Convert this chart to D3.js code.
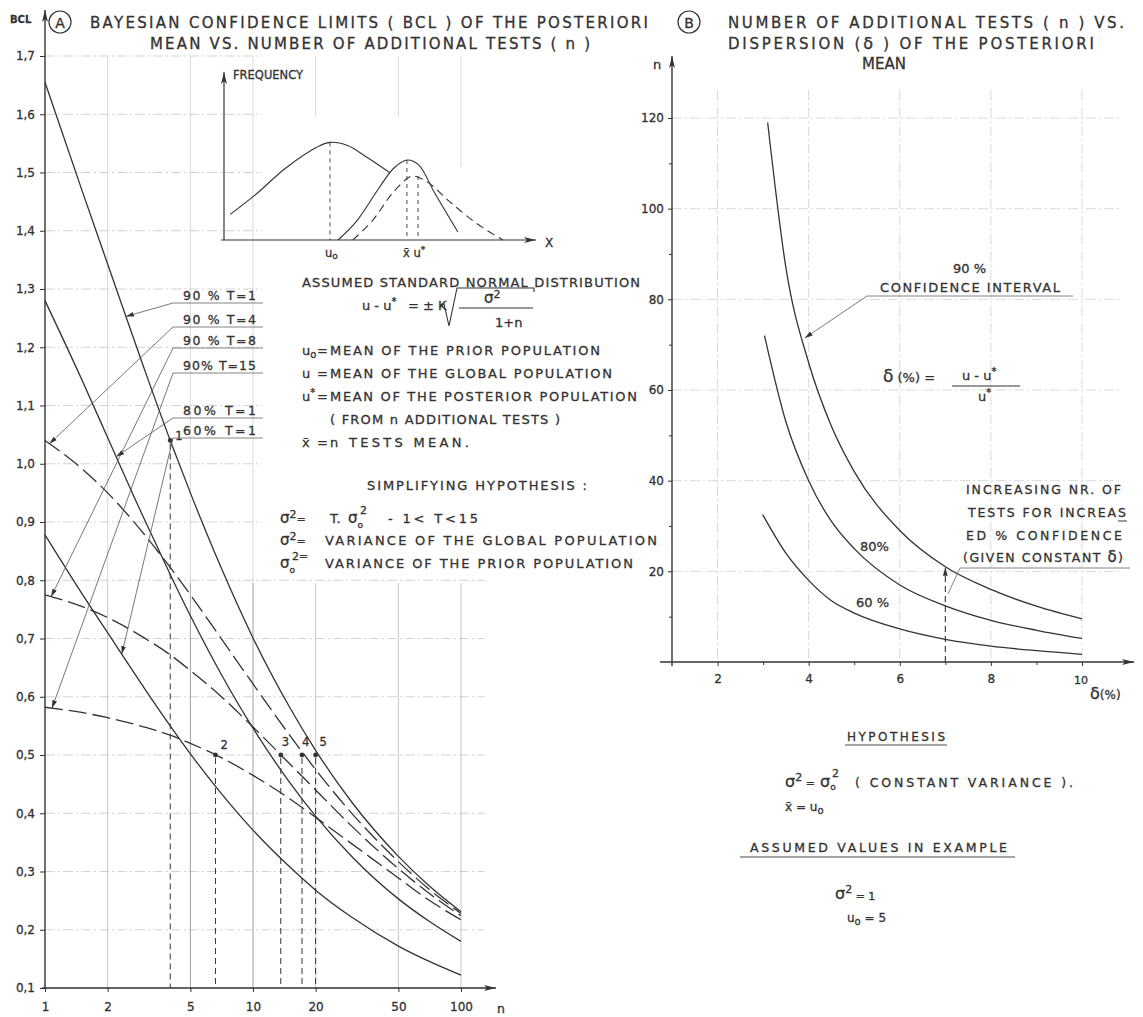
<!DOCTYPE html>
<html>
<head>
<meta charset="utf-8">
<script src="https://cdn.jsdelivr.net/npm/d3@7"></script>
<style>
  body { margin: 0; background: #fff; }
  svg text { font-family: "DejaVu Sans", sans-serif; fill: #333; stroke: #333; stroke-width: 0.3px; }
</style>
</head>
<body>
<svg id="chart" width="1143" height="1017"></svg>
<script>
// ---------- Panel A: Bayesian confidence limits vs. number of tests ----------
const nSteps   = [1, 1.5, 2, 3, 4, 5, 7, 10, 15, 20, 30, 50, 70, 100];
const bcl90T1  = [1.655, 1.471, 1.343, 1.163, 1.040, 0.950, 0.823, 0.701, 0.582, 0.508, 0.418, 0.326, 0.276, 0.231];
const bcl80T1  = [1.280, 1.145, 1.045, 0.905, 0.810, 0.739, 0.640, 0.546, 0.453, 0.395, 0.325, 0.253, 0.215, 0.180];
const bcl60T1  = [0.878, 0.778, 0.710, 0.615, 0.550, 0.502, 0.435, 0.371, 0.308, 0.268, 0.221, 0.172, 0.146, 0.122];
const bcl90T4  = [1.040, 0.992, 0.950, 0.879, 0.822, 0.775, 0.701, 0.622, 0.534, 0.475, 0.399, 0.317, 0.270, 0.228];
const bcl90T8  = [0.775, 0.755, 0.736, 0.701, 0.672, 0.645, 0.601, 0.548, 0.485, 0.440, 0.377, 0.305, 0.263, 0.224];
const bcl90T15 = [0.582, 0.573, 0.564, 0.548, 0.534, 0.520, 0.496, 0.465, 0.425, 0.393, 0.347, 0.289, 0.251, 0.217];

const bclTicks = [0.1, 0.2, 0.3, 0.4, 0.5, 0.6, 0.7, 0.8, 0.9, 1.0, 1.1, 1.2, 1.3, 1.4, 1.5, 1.6, 1.7];
const nTicks   = [1, 2, 5, 10, 20, 50, 100];

// worked example points
const exampleN     = [4, 6.6, 13.6, 17.2, 20];
const exampleBCL   = [1.04, 0.5, 0.5, 0.5, 0.5];
const exampleLabel = ["1", "2", "3", "4", "5"];

// legend labels and where their leaders touch the curves (n on the curve)
const legendLabels  = ["90 % T=1", "90 % T=4", "90 % T=8", "90% T=15", "80% T=1", "60% T=1"];
const legendLeaderN = [2.45, 1.05, 1.07, 1.08, 2.2, 2.34];

// inset: prior / posterior frequency sketch
const priorX = [0.2, 1, 2, 3, 3.43, 4, 4.6, 5.37];
const priorY = [0.16, 0.28, 0.45, 0.58, 0.61, 0.59, 0.52, 0.42];
const postX  = [3.69, 4.3, 5.0, 5.5, 5.92, 6.3, 6.8, 7.57];
const postY  = [0.0, 0.12, 0.32, 0.45, 0.50, 0.47, 0.30, 0.05];
const sampX  = [4.17, 4.8, 5.4, 5.9, 6.12, 6.6, 7.3, 8.2, 9.03];
const sampY  = [0.0, 0.12, 0.28, 0.38, 0.40, 0.36, 0.24, 0.10, 0.0];
const insetMarks = { u0: 3.43, xbar: 5.92, ustar: 6.28 };

// ---------- Panel B: number of tests vs. dispersion ----------
const delta90 = [3.1, 3.5, 4, 4.5, 5, 6, 7, 8, 9, 10];
const nB90    = [119, 87, 66, 52, 42, 29, 21, 16, 12.3, 9.5];
const delta80 = [3.03, 3.5, 4, 4.5, 5, 6, 7, 8, 9, 10];
const nB80    = [72, 53, 40, 31, 25, 17, 12.4, 9.2, 7, 5.2];
const delta60 = [2.99, 3.5, 4, 4.5, 5, 6, 7, 8, 9, 10];
const nB60    = [32.5, 24, 18, 13.5, 10.8, 7.3, 5, 3.5, 2.5, 1.7];
const nBTicks = [20, 40, 60, 80, 100, 120];
const nBMinor = [10, 30, 50, 70, 90, 110];
const dTicks  = [2, 4, 6, 8, 10];
const dMinor  = [3, 5, 7, 9];
const arrowDelta = 7;

const INK = "#333";
const svg = d3.select("#chart");
svg.append("rect").attr("width", 1143).attr("height", 1017).attr("fill", "#fff");

const defs = svg.append("defs");
defs.append("marker").attr("id", "arr").attr("viewBox", "0 0 12 6")
  .attr("refX", 12).attr("refY", 3).attr("markerWidth", 14).attr("markerHeight", 6)
  .attr("markerUnits", "userSpaceOnUse").attr("orient", "auto")
  .append("path").attr("d", "M0,0 L12,3 L0,6 L3,3 Z").attr("fill", INK);
defs.append("marker").attr("id", "arrS").attr("viewBox", "0 0 10 6")
  .attr("refX", 10).attr("refY", 3).attr("markerWidth", 8).attr("markerHeight", 5)
  .attr("markerUnits", "userSpaceOnUse").attr("orient", "auto")
  .append("path").attr("d", "M0,0 L10,3 L0,6 Z").attr("fill", INK);

function line(x1, y1, x2, y2, opt = {}) {
  const l = svg.append("line").attr("x1", x1).attr("y1", y1).attr("x2", x2).attr("y2", y2)
    .attr("stroke", opt.color || INK).attr("stroke-width", opt.w || 1);
  if (opt.dash) l.attr("stroke-dasharray", opt.dash);
  if (opt.marker) l.attr("marker-end", `url(#${opt.marker})`);
  return l;
}
// text made of parts; a part is a string or {t, dy, size}
function rich(x, y, parts, opt = {}) {
  const t = svg.append("text").attr("x", x).attr("y", y).attr("font-size", opt.size || 12.5);
  if (opt.anchor) t.attr("text-anchor", opt.anchor);
  if (opt.len) t.attr("textLength", opt.len).attr("lengthAdjust", "spacing");
  let shift = 0;
  parts.forEach(p => {
    if (typeof p === "string") p = { t: p };
    const dy = (p.dy || 0) - shift;
    shift = p.dy || 0;
    const s = t.append("tspan").attr("dy", dy).text(p.t);
    if (p.size) s.attr("font-size", p.size);
  });
  return t;
}
function txt(x, y, s, opt = {}) { return rich(x, y, [s], opt); }

// ================= PANEL A =================
const xA = d3.scaleLog().domain([1, 100]).range([45, 461]);
const yA = d3.scaleLinear().domain([0.1, 1.7]).range([988, 56]);

// grid
const gridA = svg.append("g").attr("stroke-width", 0.8);
bclTicks.forEach(v => {
  const right = v <= 0.8 ? 485 : 262;
  gridA.append("line").attr("x1", xA(1)).attr("x2", right).attr("y1", yA(v)).attr("y2", yA(v))
    .attr("stroke", "#c8c8c8").attr("stroke-dasharray", "10,3,2,3");
});
nTicks.slice(1).forEach(n => {
  const upperEnd = n === 100 ? 167 : (n >= 20 ? 117 : 583);
  gridA.append("line").attr("x1", xA(n)).attr("x2", xA(n)).attr("y1", yA(1.7)).attr("y2", upperEnd)
    .attr("stroke", "#cfcfcf");
  gridA.append("line").attr("x1", xA(n)).attr("x2", xA(n)).attr("y1", 583).attr("y2", yA(0.1))
    .attr("stroke", n === 5 || n === 10 ? "#8a8a8a" : "#b8b8b8");
});

// axes
line(xA(1), yA(0.1), xA(1), 10, { w: 1.4, marker: "arr" });
line(xA(1) - 3, yA(0.1), 496, yA(0.1), { w: 1.4, marker: "arr" });
const gyA = svg.append("g").attr("transform", `translate(${xA(1)},0)`)
  .call(d3.axisLeft(yA).tickValues(bclTicks).tickSize(5).tickPadding(5)
    .tickFormat(d => d3.format(".1f")(d).replace(".", ",")));
gyA.select(".domain").remove();
const gxA = svg.append("g").attr("transform", `translate(0,${yA(0.1)})`)
  .call(d3.axisBottom(xA).tickValues(nTicks).tickSize(4).tickPadding(10).tickFormat(d3.format("d")));
gxA.select(".domain").remove();
[gyA, gxA].forEach(g => {
  g.attr("font-family", null).attr("font-size", null);
  g.selectAll("line").attr("stroke", INK);
  g.selectAll("text").attr("font-size", 12).attr("fill", INK);
});
txt(497, 1013, "n", { size: 12.5 });
txt(10, 23, "BCL", { size: 10 }).attr("font-weight", "bold");

// curves
const lineA = data => d3.line().x((d, i) => xA(nSteps[i])).y(d => yA(d)).curve(d3.curveMonotoneX)(data);
const seriesA = [
  { v: bcl90T1, dash: null }, { v: bcl80T1, dash: null }, { v: bcl60T1, dash: null },
  { v: bcl90T4, dash: "18,6" }, { v: bcl90T8, dash: "18,6" }, { v: bcl90T15, dash: "18,6" }
];
seriesA.forEach(s => svg.append("path").attr("d", lineA(s.v)).attr("fill", "none")
  .attr("stroke", INK).attr("stroke-width", 1.3).attr("stroke-dasharray", s.dash));

// worked example points
exampleN.forEach((n, i) => {
  line(xA(n), yA(exampleBCL[i]) + 3, xA(n), yA(0.1), { dash: "6,4", w: 1 });
  svg.append("circle").attr("cx", xA(n)).attr("cy", yA(exampleBCL[i])).attr("r", 2.4).attr("fill", INK);
  const off = [[5, 0], [5, -6], [1, -9], [0, -9], [4, -9]][i];
  txt(xA(n) + off[0], yA(exampleBCL[i]) + off[1], exampleLabel[i], { size: 11.5 });
});

// legend with leaders
const legendSeries = [bcl90T1, bcl90T4, bcl90T8, bcl90T15, bcl80T1, bcl60T1];
const legendUnder = [303, 327, 348, 373, 418, 438];
legendLabels.forEach((lab, i) => {
  const uy = legendUnder[i];
  txt(183, uy - 3, lab, { size: 12.5, len: 73 });
  line(173, uy, 263, uy, { w: 0.8, color: "#666" });
  const yOn = d3.scaleLog().domain(nSteps).range(legendSeries[i]);
  const n = legendLeaderN[i];
  line(173, uy, xA(n), yA(yOn(n)), { w: 0.8, color: "#555", marker: "arrS" });
});

// title
svg.append("circle").attr("cx", 60).attr("cy", 22).attr("r", 11).attr("fill", "none").attr("stroke", INK).attr("stroke-width", 1.2);
txt(60, 27.5, "A", { size: 14, anchor: "middle" });
txt(90, 28, "BAYESIAN  CONFIDENCE  LIMITS  ( BCL ) OF  THE  POSTERIORI", { size: 15, len: 558 });
txt(150, 49, "MEAN  VS.  NUMBER  OF ADDITIONAL  TESTS  ( n )", { size: 15, len: 440 });

// inset sketch
const xI = d3.scaleLinear().domain([0, 10]).range([224, 533]);
const yI = d3.scaleLinear().domain([0, 1]).range([240, 80]);
const lineI = (xs, ys) => d3.line().x((d, i) => xI(xs[i])).y(d => yI(d)).curve(d3.curveCatmullRom)(ys);
line(xI(0), yI(0), xI(0), 72, { w: 1.2, marker: "arr" });
line(xI(0) - 3, yI(0), 536, yI(0), { w: 1.2, marker: "arr" });
svg.append("path").attr("d", lineI(priorX, priorY)).attr("fill", "none").attr("stroke", INK).attr("stroke-width", 1.1);
svg.append("path").attr("d", lineI(postX, postY)).attr("fill", "none").attr("stroke", INK).attr("stroke-width", 1.1);
svg.append("path").attr("d", lineI(sampX, sampY)).attr("fill", "none").attr("stroke", INK).attr("stroke-width", 1.1).attr("stroke-dasharray", "8,5");
line(xI(insetMarks.u0), yI(0.61), xI(insetMarks.u0), yI(0), { dash: "4,4", w: 0.9 });
line(xI(insetMarks.xbar), yI(0.5), xI(insetMarks.xbar), yI(0), { dash: "4,4", w: 0.9 });
line(xI(insetMarks.ustar), yI(0.4), xI(insetMarks.ustar), yI(0), { dash: "4,4", w: 0.9 });
txt(233, 79, "FREQUENCY", { size: 11.5 });
txt(545, 247, "X", { size: 12 });
rich(xI(insetMarks.u0) - 5, 257, ["u", { t: "o", dy: 2, size: 9 }], { size: 11.5 });
rich(xI(insetMarks.xbar) - 4, 257, ["x̄", { t: " u", dy: 0 }, { t: "*", dy: -4, size: 9 }], { size: 11.5 });

// explanatory text block
txt(302, 287, "ASSUMED  STANDARD  NORMAL  DISTRIBUTION", { size: 13, len: 338 });
rich(362, 310, ["u - u", { t: "*", dy: -5, size: 10 }], { size: 13 });
txt(408, 310, "= ± K", { size: 13 });
svg.append("path").attr("d", "M440,307 L444,304 L449,326 L457,288 L534,288 L534,292")
  .attr("fill", "none").attr("stroke", INK).attr("stroke-width", 1.1);
rich(484, 303, ["σ", { t: "2", dy: -5, size: 11 }], { size: 15 });
line(459, 308, 533, 308, { w: 1.1 });
txt(495, 327, "1+n", { size: 13 });

const defs1 = [
  [355, ["u", { t: "o", dy: 3, size: 10 }], "MEAN  OF  THE  PRIOR  POPULATION", 270],
  [378, ["u"], "MEAN  OF  THE  GLOBAL  POPULATION", 282],
  [401, ["u", { t: "*", dy: -5, size: 10 }], "MEAN  OF  THE  POSTERIOR  POPULATION", 307],
  [447, ["x̄"], "n  TESTS  MEAN.", 139]
];
defs1.forEach(([y, lhs, rhs, len]) => {
  rich(302, y, lhs, { size: 13 });
  txt(317, y, "=", { size: 13 });
  txt(330, y, rhs, { size: 13, len });
});
txt(330, 424, "( FROM  n  ADDITIONAL  TESTS )", { size: 13, len: 230 });
txt(367, 490, "SIMPLIFYING  HYPOTHESIS :", { size: 13, len: 220 });
rich(280, 523, ["σ", { t: "2", dy: -5, size: 11 }, { t: "=", dy: 0, size: 11 }], { size: 15 });
txt(330, 523, "T.", { size: 13 });
rich(348, 523, ["σ", { t: "o", dy: 5, size: 9 }], { size: 15 });
txt(360, 514, "2", { size: 11 });
txt(388, 523, "-   1< T<15", { size: 13, len: 90 });
rich(280, 545, ["σ", { t: "2", dy: -5, size: 11 }, { t: "=", dy: 0, size: 11 }], { size: 15 });
txt(325, 545, "VARIANCE  OF  THE  GLOBAL  POPULATION", { size: 13, len: 332 });
rich(280, 568, ["σ", { t: "o", dy: 5, size: 9 }], { size: 15 });
rich(292, 560, ["2", { t: "=", dy: 0 }], { size: 11 });
txt(325, 568, "VARIANCE  OF  THE  PRIOR  POPULATION", { size: 13, len: 308 });

// ================= PANEL B =================
const xB = d3.scaleLinear().domain([1, 10]).range([672, 1082]);
const yB = d3.scaleLinear().domain([0, 120]).range([662, 118]);

const gridB = svg.append("g").attr("stroke", "#cfcfcf").attr("stroke-width", 0.8).attr("stroke-dasharray", "10,3,2,3");
nBTicks.forEach(v => gridB.append("line").attr("x1", xB(1)).attr("x2", 1120).attr("y1", yB(v)).attr("y2", yB(v)));
dTicks.forEach(d => gridB.append("line").attr("x1", xB(d)).attr("x2", xB(d)).attr("y1", 90).attr("y2", yB(0)));

line(xB(1), yB(0) + 4, xB(1), 56, { w: 1.4, marker: "arr" });
line(660, yB(0), 1134, yB(0), { w: 1.4, marker: "arr" });
const gyB = svg.append("g").attr("transform", `translate(${xB(1)},0)`)
  .call(d3.axisLeft(yB).tickValues(nBTicks).tickSize(4).tickPadding(4));
const gyBm = svg.append("g").attr("transform", `translate(${xB(1)},0)`)
  .call(d3.axisLeft(yB).tickValues(nBMinor).tickSize(3).tickFormat(""));
const gxB = svg.append("g").attr("transform", `translate(0,${yB(0)})`)
  .call(d3.axisBottom(xB).tickValues(dTicks).tickSize(4).tickPadding(8).tickFormat(d => d === 10 ? "" : d));
const gxBm = svg.append("g").attr("transform", `translate(0,${yB(0)})`)
  .call(d3.axisBottom(xB).tickValues(dMinor).tickSize(3).tickFormat(""));
[gyB, gyBm, gxB, gxBm].forEach(g => {
  g.select(".domain").remove();
  g.attr("font-family", null).attr("font-size", null);
  g.selectAll("line").attr("stroke", INK);
  g.selectAll("text").attr("font-size", 12).attr("fill", INK);
});
txt(653, 69, "n", { size: 13 });
txt(1074, 684, "10", { size: 11 });
rich(1090, 699, ["δ", { t: "(%)", dy: 0, size: 12 }], { size: 16 });

const lineB = (xs, ys) => d3.line().x((d, i) => xB(xs[i])).y(d => yB(d)).curve(d3.curveMonotoneX)(ys);
[[delta90, nB90], [delta80, nB80], [delta60, nB60]].forEach(([xs, ys]) =>
  svg.append("path").attr("d", lineB(xs, ys)).attr("fill", "none").attr("stroke", INK).attr("stroke-width", 1.3));

// 90% leader
const n90At = d3.scaleLinear().domain(delta90).range(nB90);
txt(953, 273, "90 %", { size: 13 });
txt(880, 292, "CONFIDENCE  INTERVAL", { size: 13, len: 180 });
line(1073, 296, 867, 296, { w: 0.8, color: "#666" });
svg.append("path").attr("d", `M867,296 L${xB(3.87) + 2},${yB(n90At(3.87))}`)
  .attr("stroke", "#555").attr("stroke-width", 0.8).attr("fill", "none").attr("marker-end", "url(#arrS)");

// dispersion definition
rich(883, 382, ["δ", { t: " (%) =", dy: 0, size: 13 }], { size: 17 });
rich(962, 380, ["u  -  u", { t: "*", dy: -5, size: 10 }], { size: 13 });
line(952, 386, 1020, 386, { w: 1.1 });
rich(978, 401, ["u", { t: "*", dy: -5, size: 10 }], { size: 13 });

// constant-dispersion arrow
line(xB(arrowDelta), yB(0), xB(arrowDelta), yB(n90At(arrowDelta)) + 1, { dash: "6,4", w: 1.1, marker: "arrS" });
txt(966, 494, "INCREASING  NR.  OF", { size: 12.5, len: 155 });
txt(968, 517, "TESTS  FOR  INCREAS", { size: 12.5, len: 158 });
line(1118, 521, 1127, 521, { w: 1 });
txt(966, 540, "ED    %  CONFIDENCE", { size: 12.5, len: 156 });
rich(963, 562, ["(GIVEN  CONSTANT ", { t: "δ", size: 15 }, ")"], { size: 12.5, len: 160 });
line(960, 568, 1130, 568, { w: 0.8, color: "#666" });
line(960, 568, 948, 594, { w: 0.8, color: "#666" });

txt(860, 551, "80%", { size: 13 });
txt(856, 607, "60 %", { size: 13 });

// title B
svg.append("circle").attr("cx", 689).attr("cy", 22).attr("r", 11).attr("fill", "none").attr("stroke", INK).attr("stroke-width", 1.2);
txt(689, 27.5, "B", { size: 14, anchor: "middle" });
txt(728, 28, "NUMBER  OF ADDITIONAL  TESTS  ( n )  VS.", { size: 15, len: 396 });
rich(728, 49, ["DISPERSION   (", { t: "δ", size: 16 }, " )  OF  THE  POSTERIORI"], { size: 15, len: 366 });
txt(884, 69, "MEAN", { size: 15, anchor: "middle" });

// hypothesis block
txt(847, 741, "HYPOTHESIS", { size: 12, len: 98 });
line(845, 745, 947, 745, { w: 0.9 });
rich(785, 787, ["σ", { t: "2", dy: -6, size: 11 }, { t: " = ", dy: 0, size: 11 }], { size: 16 });
rich(820, 787, ["σ", { t: "o", dy: 3, size: 9 }], { size: 16 });
txt(832, 777, "2", { size: 11 });
txt(855, 787, "( CONSTANT    VARIANCE ).", { size: 12.5, len: 218 });
rich(785, 811, ["x̄  =  u", { t: "o", dy: 3, size: 10 }], { size: 12 });
txt(750, 852, "ASSUMED  VALUES  IN  EXAMPLE", { size: 12.5, len: 257 });
line(740, 857, 1015, 857, { w: 0.9 });
rich(835, 899, ["σ", { t: "2", dy: -6, size: 11 }, { t: " = 1", dy: 1, size: 11 }], { size: 16 });
rich(847, 922, ["u", { t: "o", dy: 3, size: 10 }, { t: " = 5", dy: 0 }], { size: 12 });
</script>
</body>
</html>
